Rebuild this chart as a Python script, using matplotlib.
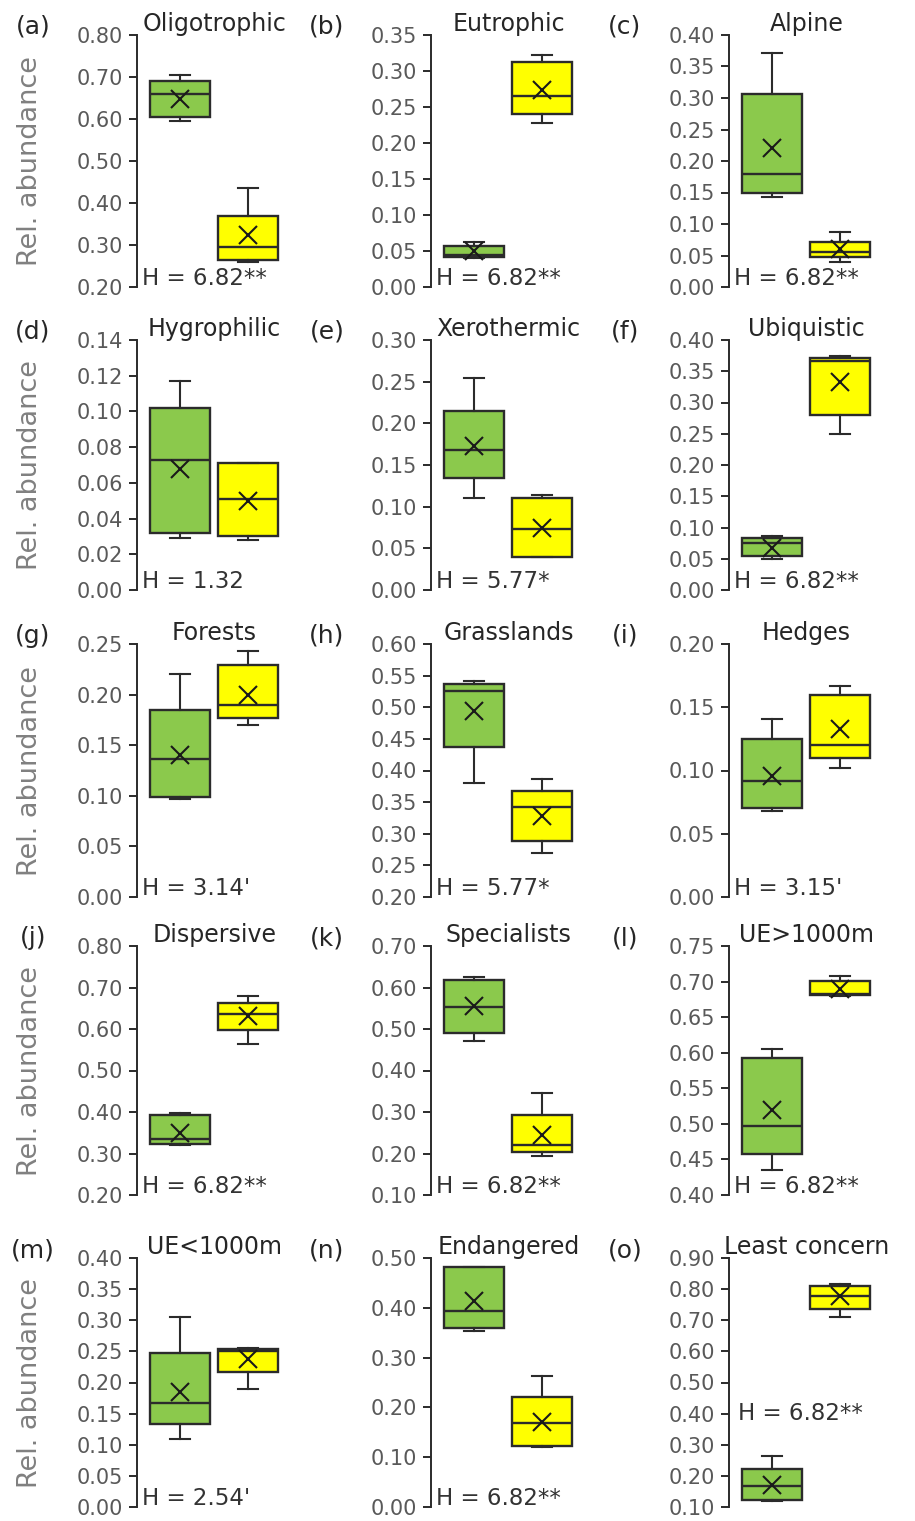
import numpy as np
import matplotlib.pyplot as plt

plt.rcParams['font.family'] = ['DejaVu Sans']

# 面板标题 / 字母 / 检验结果
letters = ['(a)', '(b)', '(c)', '(d)', '(e)', '(f)', '(g)', '(h)', '(i)',
           '(j)', '(k)', '(l)', '(m)', '(n)', '(o)']
titles = ['Oligotrophic', 'Eutrophic', 'Alpine', 'Hygrophilic', 'Xerothermic', 'Ubiquistic',
          'Forests', 'Grasslands', 'Hedges', 'Dispersive', 'Specialists', 'UE>1000m',
          'UE<1000m', 'Endangered', 'Least concern']
h_text = ['H = 6.82**', 'H = 6.82**', 'H = 6.82**', 'H = 1.32', 'H = 5.77*', 'H = 6.82**',
          "H = 3.14'", 'H = 5.77*', "H = 3.15'", 'H = 6.82**', 'H = 6.82**', 'H = 6.82**',
          "H = 2.54'", 'H = 6.82**', 'H = 6.82**']

# y轴范围和刻度间隔
y_min = [0.20, 0.00, 0.00, 0.00, 0.00, 0.00, 0.00, 0.20, 0.00, 0.20, 0.10, 0.40, 0.00, 0.00, 0.10]
y_max = [0.80, 0.35, 0.40, 0.14, 0.30, 0.40, 0.25, 0.60, 0.20, 0.80, 0.70, 0.75, 0.40, 0.50, 0.90]
y_step = [0.10, 0.05, 0.05, 0.02, 0.05, 0.05, 0.05, 0.05, 0.05, 0.10, 0.10, 0.05, 0.05, 0.10, 0.10]

# 每行: whislo, q1, med, q3, whishi, mean
green = [
    [0.595, 0.605, 0.660, 0.690, 0.705, 0.648],
    [0.040, 0.042, 0.045, 0.057, 0.063, 0.050],
    [0.143, 0.150, 0.180, 0.307, 0.372, 0.220],
    [0.029, 0.032, 0.073, 0.102, 0.117, 0.068],
    [0.110, 0.135, 0.168, 0.215, 0.255, 0.173],
    [0.050, 0.055, 0.075, 0.083, 0.086, 0.068],
    [0.097, 0.099, 0.136, 0.185, 0.220, 0.140],
    [0.380, 0.437, 0.526, 0.536, 0.542, 0.494],
    [0.068, 0.070, 0.092, 0.125, 0.141, 0.096],
    [0.320, 0.322, 0.335, 0.393, 0.397, 0.350],
    [0.470, 0.490, 0.552, 0.617, 0.625, 0.555],
    [0.435, 0.457, 0.497, 0.593, 0.605, 0.520],
    [0.110, 0.134, 0.167, 0.247, 0.306, 0.185],
    [0.353, 0.360, 0.393, 0.482, 0.482, 0.413],
    [0.120, 0.122, 0.167, 0.222, 0.265, 0.170],
]
yellow = [
    [0.260, 0.265, 0.295, 0.370, 0.435, 0.325],
    [0.228, 0.240, 0.265, 0.312, 0.322, 0.273],
    [0.040, 0.048, 0.055, 0.072, 0.088, 0.060],
    [0.028, 0.030, 0.051, 0.071, 0.071, 0.050],
    [0.040, 0.040, 0.073, 0.110, 0.114, 0.075],
    [0.250, 0.280, 0.367, 0.372, 0.375, 0.333],
    [0.170, 0.177, 0.190, 0.229, 0.243, 0.200],
    [0.270, 0.288, 0.342, 0.367, 0.386, 0.328],
    [0.102, 0.110, 0.120, 0.160, 0.167, 0.133],
    [0.565, 0.597, 0.635, 0.663, 0.680, 0.632],
    [0.195, 0.203, 0.220, 0.293, 0.345, 0.245],
    [0.680, 0.681, 0.683, 0.701, 0.708, 0.690],
    [0.190, 0.217, 0.250, 0.254, 0.256, 0.238],
    [0.120, 0.123, 0.168, 0.220, 0.263, 0.170],
    [0.710, 0.737, 0.778, 0.810, 0.815, 0.778],
]

W, H = 915, 1521
fig = plt.figure(figsize=(W / 100, H / 100), dpi=100)

row_top = [35, 340, 644, 946, 1258]
row_bot = [287, 590, 897, 1195, 1507]
col_left = [137, 431, 729]
ax_w = 155

edge = '#2b2b2b'
for i in range(15):
    r, c = divmod(i, 3)
    ax = fig.add_axes([col_left[c] / W, 1 - row_bot[r] / H, ax_w / W, (row_bot[r] - row_top[r]) / H])
    stats = []
    for s in (green[i], yellow[i]):
        stats.append(dict(whislo=s[0], q1=s[1], med=s[2], q3=s[3], whishi=s[4], mean=s[5], fliers=[]))
    bp = ax.bxp(stats, positions=[1, 2], widths=0.88, patch_artist=True, showmeans=True,
                capwidths=0.3,
                boxprops=dict(edgecolor=edge, linewidth=1.7),
                medianprops=dict(color=edge, linewidth=1.7),
                whiskerprops=dict(color=edge, linewidth=1.5),
                capprops=dict(color=edge, linewidth=1.5),
                meanprops=dict(marker='x', markeredgecolor='#1a1a1a', markersize=13, markeredgewidth=1.5))
    bp['boxes'][0].set_facecolor('#8bc94c')
    bp['boxes'][1].set_facecolor('#ffff00')

    ax.set_xlim(0.369, 2.647)
    ax.set_ylim(y_min[i], y_max[i])
    ticks = np.arange(y_min[i], y_max[i] + y_step[i] / 2, y_step[i])
    ax.set_yticks(ticks)
    ax.set_yticklabels([f'{t:.2f}' for t in ticks])
    for sp in ['top', 'right', 'bottom']:
        ax.spines[sp].set_visible(False)
    ax.spines['left'].set_linewidth(1.4)
    ax.spines['left'].set_color(edge)
    ax.tick_params(axis='y', direction='out', length=6, width=1.4, color=edge, pad=4,
                   labelcolor='#595959', labelsize=15)
    ax.tick_params(axis='x', bottom=False, labelbottom=False)

    ax.text(0.5, 1 + 11 / 250, titles[i], transform=ax.transAxes, ha='center', va='center',
            fontsize=17, color='#262626')
    ax.text(-104 / ax_w, 1 + 8 / 250, letters[i], transform=ax.transAxes, ha='center', va='center',
            fontsize=18, color='#262626')
    if i == 14:
        ax.text(0.06, 0.375, h_text[i], transform=ax.transAxes, ha='left', va='center',
                fontsize=16.5, color='#333333')
    else:
        ax.text(0.03, 0.035, h_text[i], transform=ax.transAxes, ha='left', va='center',
                fontsize=16.5, color='#333333')
    if c == 0:
        ax.text(-107 / ax_w, 0.5, 'Rel. abundance', transform=ax.transAxes, rotation=90,
                ha='center', va='center', fontsize=19.5, color='#808080')

fig.savefig('out.png', dpi=100)
